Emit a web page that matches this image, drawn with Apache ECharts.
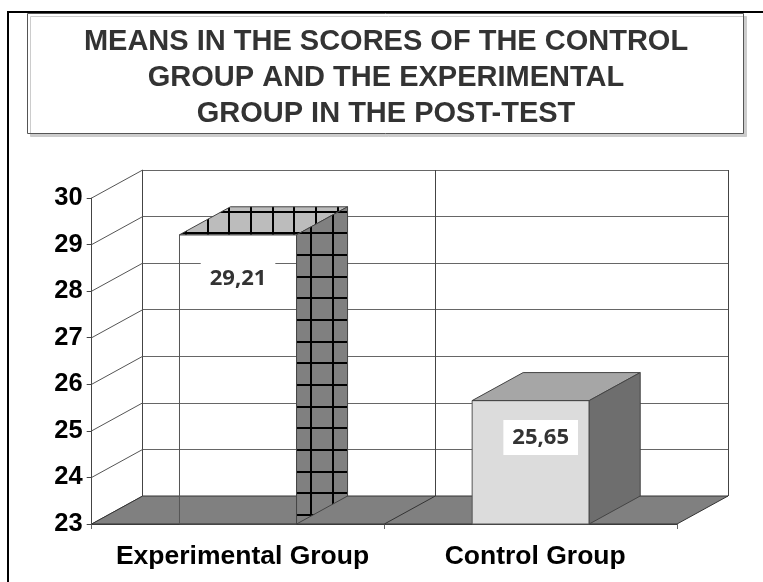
<!DOCTYPE html>
<html>
<head>
<meta charset="utf-8">
<style>html,body{margin:0;padding:0;background:#fff}#chart{width:763px;height:582px}</style>
<script src="https://cdn.jsdelivr.net/npm/echarts@6/dist/echarts.min.js"></script>
</head>
<body>
<div id="chart"></div>
<script>
const categories = ['Experimental Group', 'Control Group'];
const values = [29.21, 25.65];
const yTicks = [23, 24, 25, 26, 27, 28, 29, 30];
const titleLines = [
  'MEANS IN THE SCORES OF THE CONTROL',
  'GROUP AND THE EXPERIMENTAL',
  'GROUP IN THE POST-TEST'
];

// fake 3d depth, px
const DX = 51, DY = -28;
const G = { left: 91.7, top: 198, width: 585.3, height: 326 };
const labelShift = [[0, 44], [10, 37]];

function hatch(ox, oy, bg) {
  const c = document.createElement('canvas');
  c.width = 65; c.height = 65;
  const g = c.getContext('2d');
  g.fillStyle = bg;
  g.fillRect(0, 0, 65, 65);
  g.fillStyle = '#000';
  for (let i = 0; i < 3; i++) {
    g.fillRect(Math.round(ox + i * 65 / 3) % 65, 0, 2, 65);
    g.fillRect(0, Math.round(oy + i * 65 / 3) % 65, 65, 2);
  }
  return { image: c, repeat: 'repeat' };
}
const sideHatch = hatch(310 % 65, 254 % 65, '#808080');
const topHatch = hatch(315 % 65, 254 % 65, '#bcbcbc');

const chart = echarts.init(document.getElementById('chart'));

function renderFloor(params, api) {
  const c = params.coordSys;
  const b = c.y + c.height;
  return {
    type: 'group',
    children: [
      { type: 'polygon', shape: { points: [[c.x, b], [c.x + c.width, b], [c.x + c.width + DX, b + DY], [c.x + DX, b + DY]] },
        style: { fill: '#808080', stroke: '#333', lineWidth: 1 } },
      { type: 'line', shape: { x1: c.x + c.width / 2, y1: b, x2: c.x + c.width / 2 + DX, y2: b + DY },
        style: { stroke: '#333', lineWidth: 1 } }
    ]
  };
}

function renderWall(params, api) {
  const c = params.coordSys;
  const y = api.coord([0, api.value(0)])[1];
  return { type: 'line', shape: { x1: c.x, y1: y, x2: c.x + DX, y2: y + DY }, style: { stroke: '#555', lineWidth: 1 } };
}

function renderBar(params, api) {
  const i = params.dataIndex;
  const p = api.coord([i, api.value(1)]);
  const base = api.coord([i, 23])[1];
  const w = api.size([1, 0])[0] * 0.4;
  const l = p[0] - w / 2, r = p[0] + w / 2, t = p[1];
  const hatched = i === 0;
  const edge = '#444';
  return {
    type: 'group',
    children: [
      { type: 'polygon', shape: { points: [[l, base], [l, t], [r, t], [r, base]] },
        style: { fill: hatched ? 'none' : '#dcdcdc', stroke: '#555', lineWidth: 1 } },
      { type: 'polygon', shape: { points: [[l, t], [l + DX, t + DY], [r + DX, t + DY], [r, t]] },
        style: { fill: hatched ? topHatch : '#a6a6a6', stroke: edge, lineWidth: 1 } },
      { type: 'polygon', shape: { points: [[r, t], [r + DX, t + DY], [r + DX, base + DY], [r, base]] },
        style: { fill: hatched ? sideHatch : '#6e6e6e', stroke: edge, lineWidth: 1 } },
      { type: 'text', style: {
        text: String(values[i]).replace('.', ','),
        x: p[0] + labelShift[i][0], y: t + labelShift[i][1],
        align: 'center', verticalAlign: 'middle',
        fontFamily: 'Noto Sans', fontWeight: 'bold', fontSize: 22, fill: '#333',
        backgroundColor: '#fff', padding: [10, 9, 3, 9]
      } }
    ]
  };
}

chart.setOption({
  animation: false,
  backgroundColor: '#fff',
  title: {
    text: titleLines.join('\n'),
    left: 386, top: 24, padding: 0, textAlign: 'center',
    textStyle: { fontFamily: 'Liberation Sans', fontWeight: 'bold', fontSize: 29, lineHeight: 36, color: '#333' }
  },
  graphic: [
    { type: 'rect', z: -1, shape: { x: 27.5, y: 13.5, width: 716, height: 120 },
      style: { fill: '#fff', stroke: '#555', lineWidth: 1, shadowColor: '#ccc', shadowOffsetX: 3, shadowOffsetY: 3 } },
    { type: 'rect', shape: { x: 7, y: 11, width: 756, height: 2 }, style: { fill: '#000' } },
    { type: 'rect', shape: { x: 7, y: 11, width: 2, height: 571 }, style: { fill: '#000' } }
  ],
  grid: [
    Object.assign({}, G),
    { left: G.left + DX, top: G.top + DY, width: G.width, height: G.height }
  ],
  xAxis: [
    { type: 'category', data: categories, gridIndex: 0,
      axisLine: { show: true, lineStyle: { color: '#444' } },
      axisTick: { show: true, alignWithLabel: false, length: 5, lineStyle: { color: '#666' } },
      axisLabel: { interval: 0, hideOverlap: false, margin: 19, padding: [0, 0, 0, 9], color: '#000', fontFamily: 'Liberation Sans', fontWeight: 'bold', fontSize: 26.5 },
      splitLine: { show: false } },
    { type: 'category', data: categories, gridIndex: 1,
      axisLine: { show: false }, axisTick: { show: false }, axisLabel: { show: false },
      splitLine: { show: true, lineStyle: { color: '#444', width: 1 } } }
  ],
  yAxis: [
    { type: 'value', min: yTicks[0], max: yTicks[yTicks.length - 1], interval: 1, gridIndex: 0,
      axisLine: { show: true, lineStyle: { color: '#444' } },
      axisTick: { show: true, length: 5, lineStyle: { color: '#444' } },
      axisLabel: { margin: 9, color: '#000', fontFamily: 'Liberation Sans', fontWeight: 'bold', fontSize: 25.5 },
      splitLine: { show: false } },
    { type: 'value', min: yTicks[0], max: yTicks[yTicks.length - 1], interval: 1, gridIndex: 1,
      axisLine: { show: false }, axisTick: { show: false }, axisLabel: { show: false },
      splitLine: { show: true, lineStyle: { color: '#666', width: 1 } } }
  ],
  series: [
    { type: 'custom', name: 'walls', xAxisIndex: 0, yAxisIndex: 0, z: 1, silent: true,
      data: yTicks.map(v => [v]), encode: { y: 0 }, renderItem: renderWall },
    { type: 'custom', name: 'floor', xAxisIndex: 0, yAxisIndex: 0, z: 2, silent: true,
      data: [[0]], renderItem: renderFloor },
    { type: 'custom', name: 'means', xAxisIndex: 0, yAxisIndex: 0, z: 3,
      data: values.map((v, i) => [i, v]), encode: { x: 0, y: 1 }, renderItem: renderBar }
  ]
});
</script>
</body>
</html>
